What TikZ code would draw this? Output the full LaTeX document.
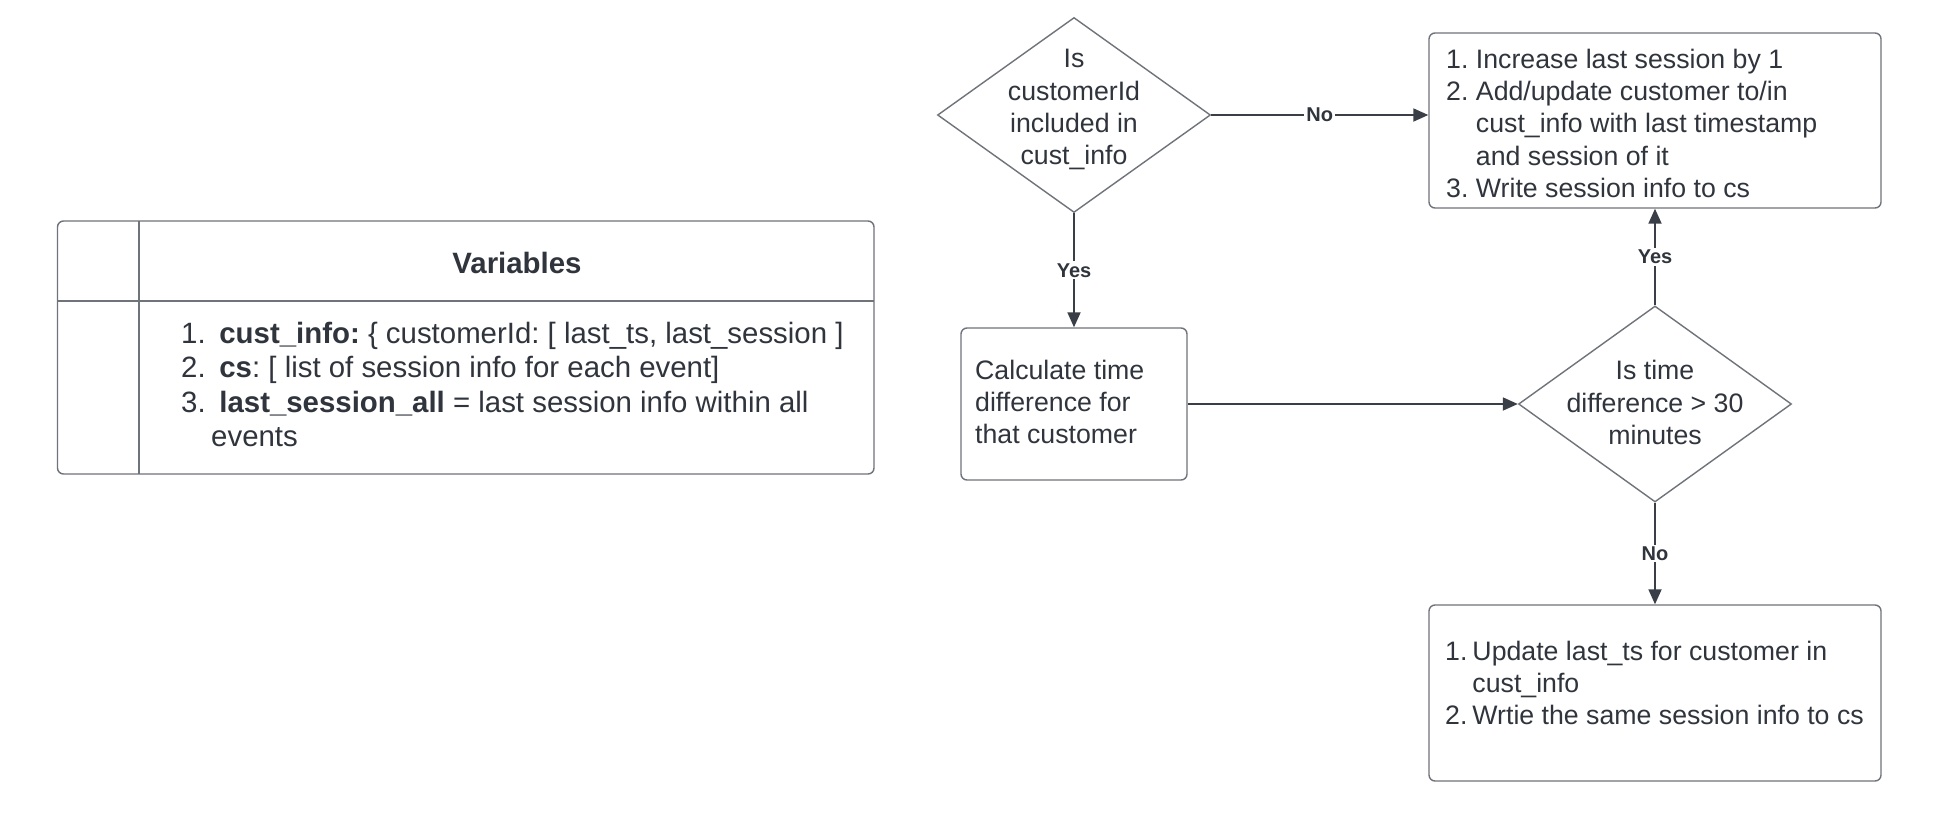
\documentclass[tikz,border=0pt]{standalone}
\usepackage{fontspec}
\setmainfont{Liberation Sans}
\usetikzlibrary{arrows.meta,shapes.geometric}
\definecolor{txt}{HTML}{30353D}
\definecolor{brd}{HTML}{6F737A}
\definecolor{arr}{HTML}{3A3F47}
\frenchspacing
\begin{document}
\begin{tikzpicture}[x=1pt,y=-1pt,
  box/.style={draw=brd, line width=1.4pt, rounded corners=6pt, fill=white, rectangle, inner sep=0pt},
  dia/.style={draw=brd, line width=1.4pt, diamond, inner sep=0pt, fill=white},
  conn/.style={draw=arr, line width=1.8pt, -{Triangle[length=15pt,width=13pt]}},
  lbl/.style={fill=white, font=\fontsize{20}{24}\selectfont\bfseries, text=txt, inner sep=2pt},
  ftxt/.style={text=txt, font=\fontsize{26.7}{32.3}\selectfont, inner sep=0pt},
  ttxt/.style={text=txt, font=\fontsize{29.4}{34.5}\selectfont, inner sep=0pt},
]
\fill[white] (0,0) rectangle (1960,814);
\useasboundingbox (0,0) rectangle (1960,814);

% ---- Variables table ----
\node[box, minimum width=816.5pt, minimum height=253pt] (tab) at (465.75,347.5) {};
\coordinate (vtop) at (139,221);
\coordinate (vbot) at (139,474);
\coordinate (hl) at (57.5,301);
\coordinate (hr) at (874,301);
\draw[brd, line width=1.4pt] (vtop) -- (vbot);
\draw[brd, line width=1.4pt] (hl) -- (hr);
\node[ttxt, font=\fontsize{29.4}{34.5}\selectfont\bfseries, anchor=base] (vtitle) at (517,273.5) {Variables};
\node[ttxt, anchor=north west] (vlist) at (181,319) {%
\begin{tabular}{@{}l@{\hspace{5.5pt}}l@{}}
1. & \ \textbf{cust\_info:} \{ customerId: [ last\_ts, last\_session ]\\
2. & \ \textbf{cs}: [ list of session info for each event]\\
3. & \ \textbf{last\_session\_all} = last session info within all\\
   & events
\end{tabular}};

% ---- Flowchart shapes ----
\node[dia, minimum width=273pt, minimum height=195pt] (d1) at (1074,115) {};
\node[ftxt, anchor=north] (d1t) at (1074,45) {%
\begin{tabular}{@{}c@{}}Is\\customerId\\included in\\cust\_info\end{tabular}};

\node[box, minimum width=452pt, minimum height=175pt] (b1) at (1655,120.5) {};
\node[ftxt, anchor=north west] (b1t) at (1446,45.5) {%
\begin{tabular}{@{}l@{\hspace{7.5pt}}l@{}}
1. & Increase last session by 1\\
2. & Add/update customer to/in\\
   & cust\_info with last timestamp\\
   & and session of it\\
3. & Write session info to cs
\end{tabular}};

\node[box, minimum width=226pt, minimum height=152pt] (b2) at (1074,404) {};
\node[ftxt, anchor=north west] (b2t) at (975,356.5) {%
\begin{tabular}{@{}l@{}}Calculate time\\difference for\\that customer\end{tabular}};

\node[dia, minimum width=273pt, minimum height=196pt] (d2) at (1655,404) {};
\node[ftxt, anchor=north] (d2t) at (1655,357) {%
\begin{tabular}{@{}c@{}}Is time\\difference > 30\\minutes\end{tabular}};

\node[box, minimum width=452pt, minimum height=176pt] (b3) at (1655,693) {};
\node[ftxt, anchor=north west] (b3t) at (1445,637.5) {%
\begin{tabular}{@{}l@{\hspace{5pt}}l@{}}
1. & Update last\_ts for customer in\\
   & cust\_info\\
2. & Wrtie the same session info to cs
\end{tabular}};

% ---- Connectors ----
\draw[conn] (d1.east) -- node[lbl] (lno1) {No} (d1.east -| b1.west);
\draw[conn] (d1.south) -- node[lbl] (lyes1) {Yes} (b2.north);
\draw[conn] (b2.east) -- (d2.west);
\draw[conn] (d2.north) -- node[lbl] (lyes2) {Yes} (b1.south);
\draw[conn] (d2.south) -- node[lbl] (lno2) {No} (b3.north);
\end{tikzpicture}
\end{document}
